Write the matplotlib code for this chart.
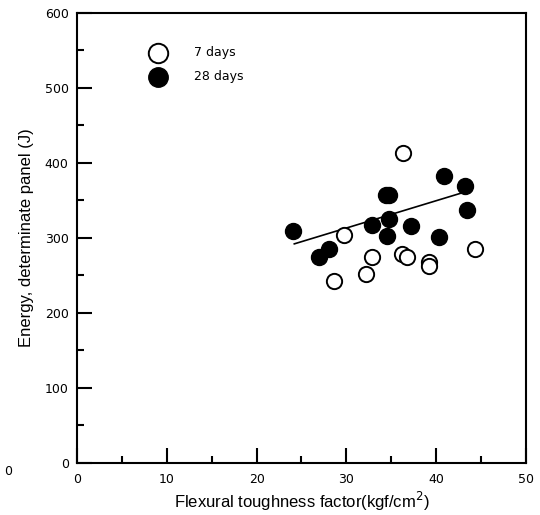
import numpy as np
import matplotlib.pyplot as plt
from matplotlib.ticker import MultipleLocator

# data
x7 = [29.7, 28.6, 32.2, 32.9, 36.2, 36.8, 39.2, 39.2, 44.3, 36.3]
y7 = [304, 242, 252, 275, 278, 275, 268, 263, 285, 413]

x28 = [24.0, 27.0, 28.1, 32.9, 34.4, 34.7, 34.8, 34.5, 37.2, 40.3, 40.9, 43.2, 43.4]
y28 = [309, 275, 285, 317, 357, 357, 325, 302, 316, 301, 383, 369, 337]

# fitted line
fit_x = [24.2, 42.9]
slope = 3.64
intercept = 204.0

narrow = ['Liberation Sans Narrow', 'DejaVu Sans']
plain = ['Liberation Sans', 'DejaVu Sans']

fig = plt.figure(figsize=(5.4, 5.15), dpi=100)
ax = fig.add_axes([0.1426, 0.101, 0.8314, 0.874])

ax.plot(x7, y7, 'o', ms=11, mfc='white', mec='black', mew=1.4, ls='none', zorder=3)
ax.plot(x28, y28, 'o', ms=11.5, mfc='black', mec='black', mew=1.0, ls='none', zorder=3)

fx = np.array(fit_x)
ax.plot(fx, slope * fx + intercept, color='black', lw=1.2, zorder=2)

ax.set_xlim(0, 50)
ax.set_ylim(0, 600)
ax.xaxis.set_major_locator(MultipleLocator(10))
ax.xaxis.set_minor_locator(MultipleLocator(5))
ax.yaxis.set_major_locator(MultipleLocator(100))
ax.yaxis.set_minor_locator(MultipleLocator(50))
ax.tick_params(which='major', direction='in', length=11, width=1.5, top=False, right=False)
ax.tick_params(which='minor', direction='in', length=5, width=1.5, top=False, right=False)
ax.tick_params(axis='x', pad=7)
ax.tick_params(axis='y', pad=6)
for lab in ax.get_xticklabels() + ax.get_yticklabels():
    lab.set_family(narrow)
    lab.set_fontsize(9)
for s in ax.spines.values():
    s.set_linewidth(1.5)

ax.set_xlabel('Flexural toughness factor(kgf/cm$^{2}$)', family=plain, fontsize=12, labelpad=3)
ax.set_ylabel('Energy, determinate panel (J)', family=plain, fontsize=12, labelpad=8)

# legend drawn by hand like the original
ax.plot([9.0], [547], 'o', ms=14, mfc='white', mec='black', mew=1.4, clip_on=False)
ax.plot([9.0], [515], 'o', ms=14, mfc='black', mec='black', clip_on=False)
ax.text(13.0, 547, '7 days', family=narrow, fontsize=9, va='center')
ax.text(13.0, 515, '28 days', family=narrow, fontsize=9, va='center')

# stray label fragment at the left edge
fig.text(0.008, 0.078, '0', family=narrow, fontsize=9)

fig.savefig('out.png', dpi=100)
